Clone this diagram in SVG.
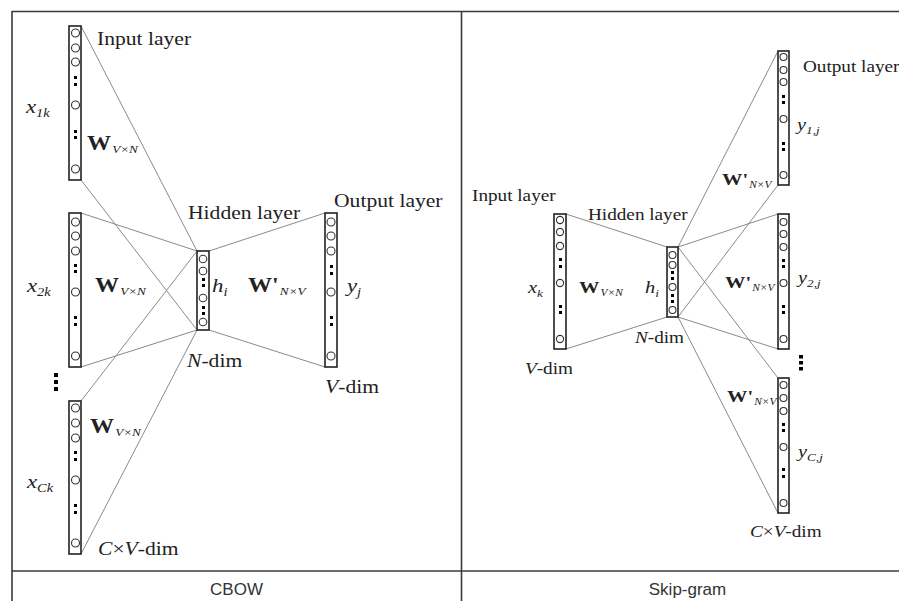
<svg xmlns="http://www.w3.org/2000/svg" width="899" height="601" viewBox="0 0 899 601">
<style>
.vec{fill:#fff;stroke:#222;stroke-width:1.6}
.nd{fill:none;stroke:#333;stroke-width:1.1}
.dot{fill:#000}
.conn line{stroke:#8a8a8a;stroke-width:1}
.frame line{stroke:#3a3a3a;stroke-width:1.6}
.t{font-family:"Liberation Serif","Times New Roman",serif;fill:#222}
.i{font-style:italic}
.b{font-weight:bold}
.cap{font-family:"Liberation Sans",Arial,sans-serif;font-size:17px;fill:#333;text-anchor:middle}
</style>
<rect width="899" height="601" fill="#fff"/>
<g class="frame">
<line x1="12" y1="11.5" x2="899" y2="11.5"/>
<line x1="12" y1="11" x2="12" y2="601"/>
<line x1="461.5" y1="11" x2="461.5" y2="601"/>
<line x1="12" y1="571" x2="899" y2="571"/>
</g>
<g class="conn">
<line x1="81" y1="26" x2="197" y2="251"/>
<line x1="81" y1="180" x2="197" y2="330"/>
<line x1="81" y1="213" x2="197" y2="251"/>
<line x1="81" y1="367" x2="197" y2="330"/>
<line x1="81" y1="401" x2="197" y2="251"/>
<line x1="81" y1="554" x2="197" y2="330"/>
<line x1="209" y1="251" x2="325" y2="213"/>
<line x1="209" y1="330" x2="325" y2="367"/>
<line x1="566" y1="214" x2="667" y2="247"/>
<line x1="566" y1="349" x2="667" y2="317"/>
<line x1="678" y1="247" x2="778" y2="51"/>
<line x1="678" y1="247" x2="778" y2="214"/>
<line x1="678" y1="247" x2="778" y2="378"/>
<line x1="678" y1="317" x2="778" y2="185"/>
<line x1="678" y1="317" x2="778" y2="349"/>
<line x1="678" y1="317" x2="778" y2="513"/>
</g>
<g id="cbow-input-1">
<rect class="vec" x="69" y="26" width="12" height="154"/>
<circle class="nd" cx="75.5" cy="33" r="4"/><circle class="nd" cx="75.5" cy="48" r="4"/><circle class="nd" cx="75.5" cy="62" r="4"/><circle class="nd" cx="75.5" cy="105" r="4"/><circle class="nd" cx="75.5" cy="169" r="4"/>
<rect class="dot" x="74" y="76" width="3" height="3"/><rect class="dot" x="74" y="83" width="3" height="3"/><rect class="dot" x="74" y="130" width="3" height="3"/><rect class="dot" x="74" y="136" width="3" height="3"/>
<text class="t" font-size="18" transform="matrix(1.2 0 0 1 97 45)">Input layer</text>
<text class="t i" transform="matrix(1.2 0 0 1 26 113)"><tspan font-size="19">x</tspan><tspan font-size="12" dy="4">1k</tspan></text>
<text class="t" transform="matrix(1.2 0 0 1 87 150)"><tspan class="b" font-size="20">W</tspan><tspan class="i" font-size="11" dy="3" dx="1">V×N</tspan></text>
</g>
<g id="cbow-input-2">
<rect class="vec" x="69" y="213" width="12" height="154"/>
<circle class="nd" cx="75.5" cy="222" r="4"/><circle class="nd" cx="75.5" cy="236" r="4"/><circle class="nd" cx="75.5" cy="251" r="4"/><circle class="nd" cx="75.5" cy="292" r="4"/><circle class="nd" cx="75.5" cy="356" r="4"/>
<rect class="dot" x="74" y="264" width="3" height="3"/><rect class="dot" x="74" y="270" width="3" height="3"/><rect class="dot" x="74" y="316" width="3" height="3"/><rect class="dot" x="74" y="323" width="3" height="3"/>
<text class="t i" transform="matrix(1.2 0 0 1 27 292)"><tspan font-size="19">x</tspan><tspan font-size="12" dy="4">2k</tspan></text>
<text class="t" transform="matrix(1.2 0 0 1 95 292)"><tspan class="b" font-size="20">W</tspan><tspan class="i" font-size="11" dy="3" dx="1">V×N</tspan></text>
</g>
<g id="cbow-ellipsis">
<rect class="dot" x="54" y="373" width="4" height="4"/><rect class="dot" x="54" y="380" width="4" height="4"/><rect class="dot" x="54" y="387" width="4" height="4"/>
</g>
<g id="cbow-input-c">
<rect class="vec" x="69" y="401" width="12" height="153"/>
<circle class="nd" cx="75.5" cy="408" r="4"/><circle class="nd" cx="75.5" cy="423" r="4"/><circle class="nd" cx="75.5" cy="438" r="4"/><circle class="nd" cx="75.5" cy="480" r="4"/><circle class="nd" cx="75.5" cy="543" r="4"/>
<rect class="dot" x="74" y="451" width="3" height="3"/><rect class="dot" x="74" y="458" width="3" height="3"/><rect class="dot" x="74" y="504" width="3" height="3"/><rect class="dot" x="74" y="511" width="3" height="3"/>
<text class="t" transform="matrix(1.2 0 0 1 90 433)"><tspan class="b" font-size="20">W</tspan><tspan class="i" font-size="11" dy="3" dx="1">V×N</tspan></text>
<text class="t i" transform="matrix(1.2 0 0 1 27 488)"><tspan font-size="19">x</tspan><tspan font-size="12" dy="4">Ck</tspan></text>
<text class="t" font-size="18" transform="matrix(1.2 0 0 1 98 555)"><tspan class="i">C</tspan>×<tspan class="i">V</tspan>-dim</text>
</g>
<g id="cbow-hidden">
<rect class="vec" x="197" y="251" width="12" height="79"/>
<circle class="nd" cx="203" cy="259" r="3.8"/><circle class="nd" cx="203" cy="271" r="3.8"/><circle class="nd" cx="203" cy="298" r="3.8"/><circle class="nd" cx="203" cy="322" r="3.8"/>
<rect class="dot" x="202" y="278" width="3" height="3"/><rect class="dot" x="202" y="284" width="3" height="3"/><rect class="dot" x="202" y="306" width="3" height="3"/><rect class="dot" x="202" y="312" width="3" height="3"/>
<text class="t" font-size="18" transform="matrix(1.2 0 0 1 188 219)">Hidden layer</text>
<text class="t i" transform="matrix(1.2 0 0 1 212 292)"><tspan font-size="19">h</tspan><tspan font-size="12" dy="4">i</tspan></text>
<text class="t" font-size="18" transform="matrix(1.2 0 0 1 187 367)"><tspan class="i">N</tspan>-dim</text>
<text class="t" transform="matrix(1.2 0 0 1 248 292)"><tspan class="b" font-size="20">W'</tspan><tspan class="i" font-size="11" dy="3" dx="1">N×V</tspan></text>
</g>
<g id="cbow-output">
<rect class="vec" x="325" y="213" width="12" height="154"/>
<circle class="nd" cx="331" cy="222" r="4"/><circle class="nd" cx="331" cy="236" r="4"/><circle class="nd" cx="331" cy="251" r="4"/><circle class="nd" cx="331" cy="292" r="4"/><circle class="nd" cx="331" cy="356" r="4"/>
<rect class="dot" x="330" y="265" width="3" height="3"/><rect class="dot" x="330" y="272" width="3" height="3"/><rect class="dot" x="330" y="316" width="3" height="3"/><rect class="dot" x="330" y="323" width="3" height="3"/>
<text class="t" font-size="18" transform="matrix(1.2 0 0 1 334 207)">Output layer</text>
<text class="t i" transform="matrix(1.2 0 0 1 347 292)"><tspan font-size="19">y</tspan><tspan font-size="12" dy="4">j</tspan></text>
<text class="t" font-size="18" transform="matrix(1.2 0 0 1 325 393)"><tspan class="i">V</tspan>-dim</text>
</g>
<g id="sg-input">
<rect class="vec" x="554" y="214" width="12" height="135"/>
<circle class="nd" cx="560" cy="220" r="3.6"/><circle class="nd" cx="560" cy="232" r="3.6"/><circle class="nd" cx="560" cy="246" r="3.6"/><circle class="nd" cx="560" cy="283" r="3.6"/><circle class="nd" cx="560" cy="339" r="3.6"/>
<rect class="dot" x="559" y="258" width="3" height="3"/><rect class="dot" x="559" y="265" width="3" height="3"/><rect class="dot" x="559" y="305" width="3" height="3"/><rect class="dot" x="559" y="311" width="3" height="3"/>
<text class="t" font-size="16" transform="matrix(1.2 0 0 1 472 201)">Input layer</text>
<text class="t i" transform="matrix(1.2 0 0 1 528 293)"><tspan font-size="17">x</tspan><tspan font-size="11" dy="4">k</tspan></text>
<text class="t" transform="matrix(1.2 0 0 1 579 293)"><tspan class="b" font-size="17">W</tspan><tspan class="i" font-size="9.5" dy="3" dx="1">V×N</tspan></text>
<text class="t" font-size="16" transform="matrix(1.2 0 0 1 525 374)"><tspan class="i">V</tspan>-dim</text>
</g>
<g id="sg-hidden">
<rect class="vec" x="667" y="247" width="11" height="70"/>
<circle class="nd" cx="672.5" cy="255" r="3.5"/><circle class="nd" cx="672.5" cy="265" r="3.5"/><circle class="nd" cx="672.5" cy="287" r="3.5"/><circle class="nd" cx="672.5" cy="310" r="3.5"/>
<rect class="dot" x="671" y="271" width="3" height="3"/><rect class="dot" x="671" y="277" width="3" height="3"/><rect class="dot" x="671" y="294" width="3" height="3"/><rect class="dot" x="671" y="300" width="3" height="3"/>
<text class="t" font-size="16" transform="matrix(1.2 0 0 1 588 220)">Hidden layer</text>
<text class="t i" transform="matrix(1.2 0 0 1 645 293)"><tspan font-size="17">h</tspan><tspan font-size="11" dy="4">i</tspan></text>
<text class="t" font-size="16" transform="matrix(1.2 0 0 1 635 343)"><tspan class="i">N</tspan>-dim</text>
</g>
<g id="sg-output-1">
<rect class="vec" x="778" y="51" width="11" height="134"/>
<circle class="nd" cx="783.5" cy="57" r="3.5"/><circle class="nd" cx="783.5" cy="70" r="3.5"/><circle class="nd" cx="783.5" cy="82" r="3.5"/><circle class="nd" cx="783.5" cy="119" r="3.5"/><circle class="nd" cx="783.5" cy="175" r="3.5"/>
<rect class="dot" x="782" y="95" width="3" height="3"/><rect class="dot" x="782" y="101" width="3" height="3"/><rect class="dot" x="782" y="142" width="3" height="3"/><rect class="dot" x="782" y="148" width="3" height="3"/>
<text class="t" font-size="16" transform="matrix(1.2 0 0 1 803 72)">Output layer</text>
<text class="t i" transform="matrix(1.2 0 0 1 797 130)"><tspan font-size="17">y</tspan><tspan font-size="11" dy="4">1,j</tspan></text>
<text class="t" transform="matrix(1.2 0 0 1 722 185)"><tspan class="b" font-size="17">W'</tspan><tspan class="i" font-size="9.5" dy="3" dx="1">N×V</tspan></text>
</g>
<g id="sg-output-2">
<rect class="vec" x="778" y="214" width="11" height="135"/>
<circle class="nd" cx="783.5" cy="222" r="3.5"/><circle class="nd" cx="783.5" cy="234" r="3.5"/><circle class="nd" cx="783.5" cy="247" r="3.5"/><circle class="nd" cx="783.5" cy="283" r="3.5"/><circle class="nd" cx="783.5" cy="339" r="3.5"/>
<rect class="dot" x="782" y="259" width="3" height="3"/><rect class="dot" x="782" y="265" width="3" height="3"/><rect class="dot" x="782" y="305" width="3" height="3"/><rect class="dot" x="782" y="311" width="3" height="3"/>
<text class="t" transform="matrix(1.2 0 0 1 725 288)"><tspan class="b" font-size="17">W'</tspan><tspan class="i" font-size="9.5" dy="3" dx="1">N×V</tspan></text>
<text class="t i" transform="matrix(1.2 0 0 1 798 283)"><tspan font-size="17">y</tspan><tspan font-size="11" dy="4">2,j</tspan></text>
</g>
<g id="sg-ellipsis">
<rect class="dot" x="799" y="355" width="4" height="3.5"/><rect class="dot" x="799" y="361" width="4" height="3.5"/><rect class="dot" x="799" y="367" width="4" height="3.5"/>
</g>
<g id="sg-output-c">
<rect class="vec" x="778" y="378" width="11" height="135"/>
<circle class="nd" cx="783.5" cy="385" r="3.5"/><circle class="nd" cx="783.5" cy="398" r="3.5"/><circle class="nd" cx="783.5" cy="411" r="3.5"/><circle class="nd" cx="783.5" cy="447" r="3.5"/><circle class="nd" cx="783.5" cy="503" r="3.5"/>
<rect class="dot" x="782" y="423" width="3" height="3"/><rect class="dot" x="782" y="429" width="3" height="3"/><rect class="dot" x="782" y="468" width="3" height="3"/><rect class="dot" x="782" y="475" width="3" height="3"/>
<text class="t" transform="matrix(1.2 0 0 1 727 402)"><tspan class="b" font-size="17">W'</tspan><tspan class="i" font-size="9.5" dy="3" dx="1">N×V</tspan></text>
<text class="t i" transform="matrix(1.2 0 0 1 798 457)"><tspan font-size="17">y</tspan><tspan font-size="11" dy="4">C,j</tspan></text>
<text class="t" font-size="16" transform="matrix(1.2 0 0 1 750 537)"><tspan class="i">C</tspan>×<tspan class="i">V</tspan>-dim</text>
</g>
<g id="captions">
<text class="cap" x="236.5" y="595">CBOW</text>
<text class="cap" x="687.5" y="595">Skip-gram</text>
</g>
</svg>
